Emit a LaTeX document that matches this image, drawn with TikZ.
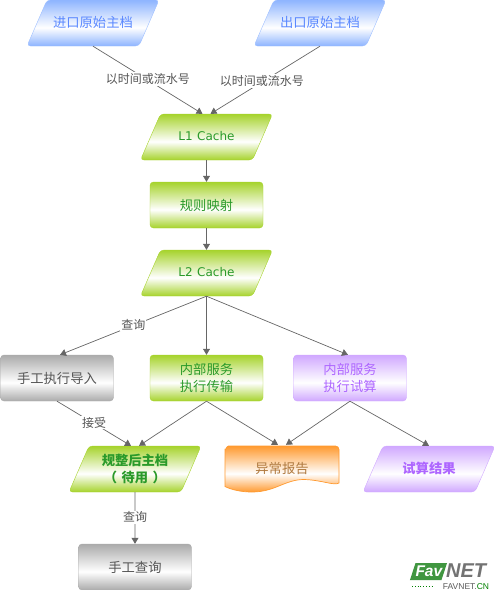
\documentclass[tikz,border=0pt]{standalone}
\usepackage{fontspec}
\setmainfont{Noto Sans CJK SC}
\newfontfamily\latinfont{DejaVu Sans}
\newfontfamily\logofont{Liberation Sans}
\usetikzlibrary{arrows.meta,shapes.geometric}
\definecolor{rblue}{HTML}{8DB4FF}
\definecolor{rgreen}{HTML}{A6D32C}
\definecolor{rgray}{HTML}{ABABAB}
\definecolor{rpurple}{HTML}{D0A8FF}
\definecolor{rorange}{HTML}{FF9A30}
\definecolor{rline}{HTML}{666666}
\definecolor{tblue}{HTML}{5A88FF}
\definecolor{tgreen}{HTML}{2A9A2A}
\definecolor{tgray}{HTML}{555555}
\definecolor{tpurple}{HTML}{AE66FF}
\definecolor{torange}{HTML}{B07A40}
\newcommand{\boxshade}[2]{\pgfdeclareverticalshading[#2]{#1}{100bp}{color(0bp)=(#2); color(25bp)=(#2); color(45bp)=(white); color(75bp)=(#2); color(100bp)=(#2)}}
\newcommand{\cachelabel}[1]{\raisebox{1.5pt}{\latinfont\fontsize{12}{14}\selectfont #1}}
\boxshade{blueshade}{rblue}
\boxshade{greenshade}{rgreen}
\boxshade{grayshade}{rgray}
\boxshade{purpleshade}{rpurple}
\boxshade{orangeshade}{rorange}
\tikzset{
  plainbox/.style={rectangle,rounded corners=3.5pt,minimum width=113pt,minimum height=46pt,inner sep=0pt,align=center,font=\fontsize{13.3}{17}\selectfont},
  slantbox/.style={trapezium,trapezium left angle=66.5,trapezium right angle=113.5,rounded corners=3.5pt,text width=92pt,text height=27.5pt,text depth=18.5pt,inner sep=0pt,align=center,font=\fontsize{13.3}{17}\selectfont},
  twolines/.style={text height=19pt,text depth=27pt},
  blueit/.style={shading=blueshade,draw=rblue!85!white,text=tblue},
  greenit/.style={shading=greenshade,draw=rgreen,text=tgreen},
  grayit/.style={shading=grayshade,draw=rgray,text=tgray},
  purpleit/.style={shading=purpleshade,draw=rpurple,text=tpurple},
  link/.style={draw=rline,line width=0.7pt,-{Triangle[length=6pt,width=7pt]}},
  tag/.style={fill=white,inner sep=1pt,yshift=1pt,text=tgray,font=\fontsize{12}{14}\selectfont},
}
\begin{document}
\begin{tikzpicture}[x=1pt,y=-1pt]
  \useasboundingbox (0,0) rectangle (495,590);
  \node[slantbox,blueit] (inmaster) at (93,23) {进口原始主档};
  \node[slantbox,blueit] (outmaster) at (320,23) {出口原始主档};
  \node[slantbox,greenit] (lonecache) at (206.5,137) {\cachelabel{L1 Cache}};
  \node[plainbox,greenit] (mapping) at (206.5,205) {规则映射};
  \node[slantbox,greenit] (ltwocache) at (206.5,273) {\cachelabel{L2 Cache}};
  \node[plainbox,grayit] (manualimport) at (57,378) {手工执行导入};
  \node[plainbox,greenit] (transfer) at (206.5,378) {内部服务\\执行传输};
  \node[plainbox,purpleit] (trial) at (350,378) {内部服务\\执行试算};
  \node[slantbox,twolines,greenit] (cleaned) at (135,469) {\bfseries 规整后主档\\\bfseries （ 待用 ）};
  \node[slantbox,purpleit] (trialresult) at (429,469) {\bfseries 试算结果};
  \node[plainbox,grayit] (manualquery) at (135,567) {手工查询};
  % report sheet has a wavy lower edge
  \path[shading=orangeshade,draw=rorange,line width=0.7pt]
    (228.5,446) -- (335.5,446) to[out=0,in=90] (339,449.5) -- (339,483)
    .. controls (334,486) and (322,480) .. (304,479.5)
    .. controls (285,479.5) and (275,492) .. (252,492)
    .. controls (242,492) and (232,490) .. (225,486.5) -- (225,449.5) to[out=-90,in=180] (228.5,446) -- cycle;
  \node[minimum width=114pt,minimum height=46pt,inner sep=0pt,text=torange,font=\fontsize{13.3}{17}\selectfont] (report) at (282,468) {异常报告};

  \draw[link] (inmaster.south) -- node[tag,pos=0.5]{以时间或流水号} ([xshift=-4pt]lonecache.north);
  \draw[link] (outmaster.south) -- node[tag,pos=0.53]{以时间或流水号} ([xshift=4pt]lonecache.north);
  \draw[link] (lonecache) -- (mapping);
  \draw[link] (mapping) -- (ltwocache);
  \draw[link] (ltwocache.south) -- node[tag,pos=0.5]{查询} ([xshift=3pt]manualimport.north);
  \draw[link] (ltwocache) -- (transfer);
  \draw[link] (ltwocache.south) -- ([xshift=-2pt]trial.north);
  \draw[link] (manualimport.south) -- node[tag,pos=0.5]{接受} ([xshift=-4pt]cleaned.north);
  \draw[link] (transfer.south) -- ([xshift=4pt]cleaned.north);
  \draw[link] (transfer.south) -- ([xshift=-4pt]report.north);
  \draw[link] (trial.south) -- ([xshift=4pt]report.north);
  \draw[link] (trial.south) -- (trialresult.north);
  \draw[link] (cleaned) -- node[tag,pos=0.5]{查询} (manualquery);

  % logo
  \node[trapezium,trapezium left angle=72,trapezium right angle=108,text width=26pt,text height=13pt,text depth=4pt,fill=green!45!black!75!white,inner sep=0pt,align=center,text=white,font=\logofont\bfseries\itshape\fontsize{15.5}{17}\selectfont] (logofav) at (428.5,571.5) {Fav};
  \node[anchor=west,inner sep=0pt,text height=14pt,text depth=0pt,text=black!55,font=\logofont\bfseries\itshape\fontsize{20}{20}\selectfont] (logonet) at (446,570.5) {NET};
  \node[inner sep=0pt,text=black!65,font=\logofont\fontsize{8.5}{9}\selectfont] (logourl) at (466,586.5) {FAVNET.\textcolor{green!50!black}{CN}};
  \draw[green!50!black,dotted,line width=0.8pt] (412,586) -- (433,586);
\end{tikzpicture}
\end{document}
